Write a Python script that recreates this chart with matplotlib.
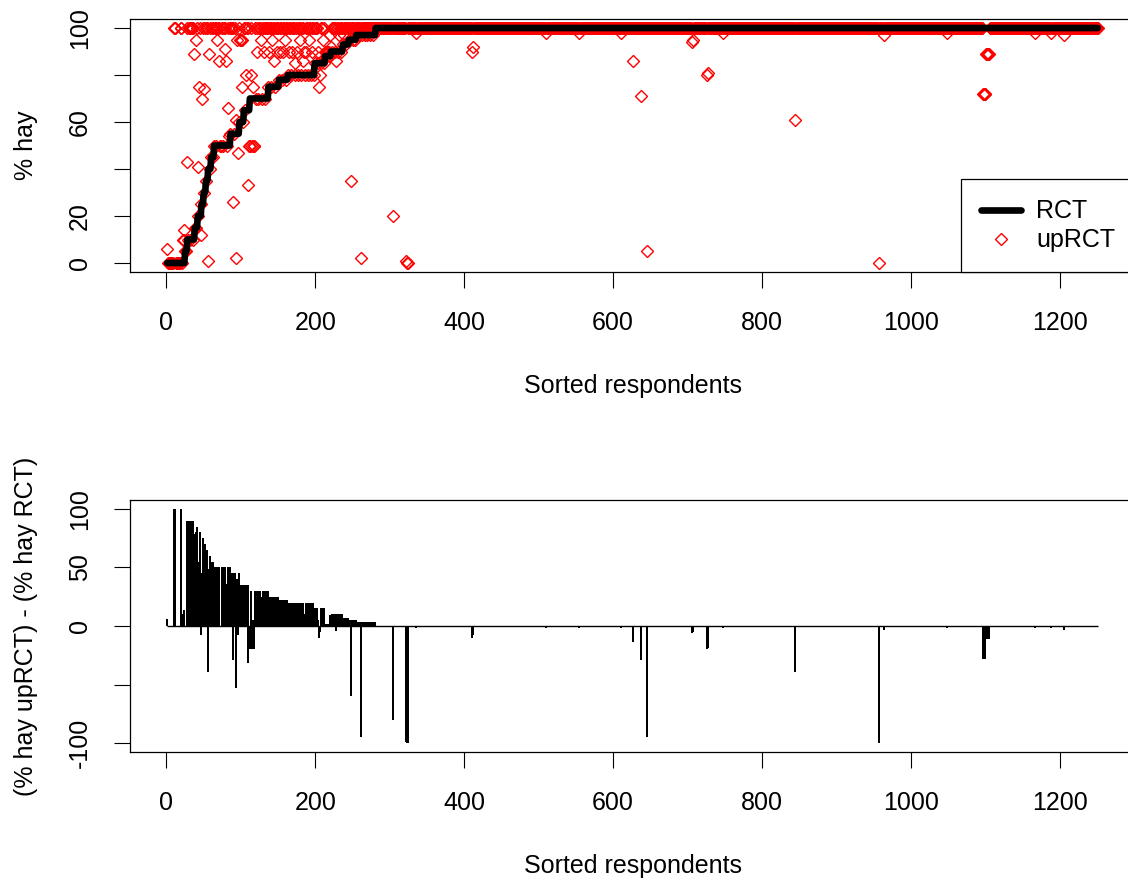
import numpy as np
import matplotlib
matplotlib.use('Agg')
import matplotlib.pyplot as plt
from matplotlib.lines import Line2D

plt.rcParams['font.family'] = ['Liberation Sans', 'DejaVu Sans']
plt.rcParams['font.size'] = 18

n_resp = 1251

# % hay under RCT, already sorted: level and number of respondents at that level
rct_levels = [0, 5, 10, 15, 20, 25, 30, 35, 40, 45, 50, 55, 60, 65, 70, 75, 78,
              80, 85, 88, 90, 93, 95, 97, 100]
rct_counts = [24, 3, 10, 4, 5, 3, 3, 3, 4, 4, 22, 12, 6, 8, 25, 14, 12,
              36, 14, 8, 16, 8, 10, 26, 971]

# % hay under upRCT for the first 280 sorted respondents
up_first = [
    6, 0, 0, 0, 0, 0, 0, 0, 0, 100, 100, 100, 0, 0, 0, 0, 0, 0, 100, 100,
    0, 10, 10, 14, 5, 5, 43, 100, 10, 100, 100, 10, 100, 100, 10, 100, 89, 15, 15, 95,
    100, 41, 20, 75, 100, 12, 25, 70, 100, 30, 74, 100, 35, 100, 100, 1, 89, 40, 100, 45,
    100, 45, 100, 50, 100, 100, 50, 95, 100, 100, 86, 50, 50, 100, 100, 50, 100, 91, 100, 86,
    50, 66, 100, 54, 100, 55, 100, 100, 26, 100, 55, 100, 2, 61, 95, 47, 100, 60, 95, 95,
    95, 75, 60, 100, 65, 100, 80, 100, 33, 100, 50, 50, 80, 100, 50, 75, 50, 50, 100, 70,
    100, 90, 70, 100, 100, 100, 95, 70, 100, 100, 90, 100, 70, 100, 100, 100, 75, 90, 100, 100,
    75, 95, 100, 100, 86, 75, 100, 100, 90, 100, 78, 100, 90, 100, 78, 90, 100, 100, 95, 78,
    100, 100, 80, 90, 100, 100, 80, 100, 90, 100, 100, 85, 80, 100, 90, 100, 80, 100, 95, 100,
    80, 100, 86, 100, 90, 80, 100, 90, 100, 80, 100, 95, 100, 80, 100, 90, 100, 80, 100, 85,
    100, 100, 90, 85, 75, 80, 100, 85, 100, 95, 100, 85, 90, 90, 90, 88, 90, 90, 97, 88,
    92, 100, 90, 100, 100, 90, 100, 86, 100, 90, 100, 97, 100, 90, 100, 100, 93, 100, 97, 100,
    93, 100, 100, 100, 95, 100, 100, 35, 100, 95, 100, 100, 95, 100, 97, 100, 100, 97, 100, 100,
    2, 100, 97, 100, 100, 97, 100, 100, 100, 97, 100, 100, 97, 100, 100, 100, 97, 100, 100, 100,
]

# later respondents whose upRCT answer is below 100 (all others answered 100)
low_idx = [304, 322, 323, 324, 335, 411, 412, 510, 554, 610, 626, 637, 645,
           706, 707, 726, 727, 747, 844, 957, 964, 1048, 1097, 1098, 1099, 1100,
           1101, 1102, 1103, 1104, 1105, 1166, 1188, 1206]
low_val = [20, 1, 0, 0, 98, 90, 92, 98, 98, 98, 86, 71, 5,
           94, 95, 80, 81, 98, 61, 0, 97, 98, 72, 72, 72, 72,
           89, 89, 89, 89, 89, 98, 98, 97]

x = np.arange(1, n_resp + 1)
rct = np.repeat(rct_levels, rct_counts).astype(float)
up = np.full(n_resp, 100.0)
up[:len(up_first)] = up_first
up[np.array(low_idx) - 1] = low_val
diff = up - rct

W, H = 1128, 884
fig = plt.figure(figsize=(W / 100, H / 100), dpi=100)
left = 130 / W
width = (1135 - 130) / W
ax1 = fig.add_axes([left, 1 - 272.4 / H, width, (272.4 - 18.6) / H])
ax2 = fig.add_axes([left, 1 - 752.4 / H, width, (752.4 - 499.6) / H])

xpad = 0.04 * (x.max() - x.min())
xlim = (x.min() - xpad, x.max() + xpad)

# top panel
ax1.plot(x, up, linestyle='none', marker='D', ms=6.5, mfc='none', mec='red', mew=1.0)
ax1.plot(x, rct, color='black', lw=4.8, solid_joinstyle='round', solid_capstyle='round')
ax1.set_xlim(*xlim)
ax1.set_ylim(-4, 104)
ax1.set_yticks([0, 20, 40, 60, 80, 100])
ax1.set_yticklabels(['0', '20', '', '60', '', '100'], rotation=90, va='center')

handles = [Line2D([], [], color='black', lw=4.8, solid_capstyle='round'),
           Line2D([], [], linestyle='none', marker='D', ms=6.5, mfc='none', mec='red', mew=1.0)]
leg = ax1.legend(handles, ['RCT', 'upRCT'], loc='lower right', borderaxespad=0,
                 fancybox=False, framealpha=1, edgecolor='black', borderpad=0.8,
                 labelspacing=0.2, handlelength=1.6, handletextpad=0.6, fontsize=18)
leg.get_frame().set_linewidth(0.9)

# bottom panel (type "h" style: one vertical line per respondent)
ax2.vlines(x, 0, diff, color='black', lw=1.2, antialiased=False)
ax2.hlines(0, x.min(), x.max(), color='black', lw=1.0)
ax2.set_xlim(*xlim)
ax2.set_ylim(-108, 108)
ax2.set_yticks([-100, -50, 0, 50, 100])
ax2.set_yticklabels(['-100', '', '0', '50', '100'], rotation=90, va='center')

for ax in (ax1, ax2):
    ax.set_xticks([0, 200, 400, 600, 800, 1000, 1200])
    ax.tick_params(direction='out', length=11.5, width=0.8, pad=16, colors='black')
    for s in ax.spines.values():
        s.set_linewidth(0.9)
        s.set_color('black')

# axis titles
xc = (130 + 1135) / 2 / W
fig.text(xc, 1 - 393.3 / H, 'Sorted respondents', ha='center', va='baseline')
fig.text(xc, 1 - 873.3 / H, 'Sorted respondents', ha='center', va='baseline')
fig.text(33 / W, 1 - 145.5 / H, '% hay', rotation=90, rotation_mode='anchor',
         ha='center', va='baseline')
fig.text(33 / W, 1 - 626 / H, '(% hay upRCT) - (% hay RCT)', rotation=90,
         rotation_mode='anchor', ha='center', va='baseline')

fig.savefig('out.png', dpi=100)
